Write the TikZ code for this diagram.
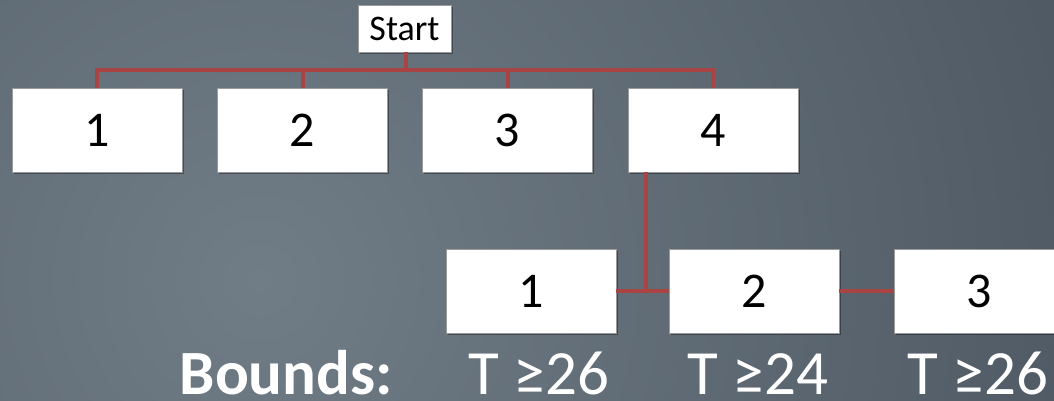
\documentclass[tikz,border=0pt]{standalone}
\usepackage{fontspec}
\setmainfont{Carlito}
\usetikzlibrary{shadows}
\definecolor{bgin}{HTML}{707C86}
\definecolor{bgout}{HTML}{4C5762}
\definecolor{linkred}{HTML}{A84444}
\definecolor{boxline}{HTML}{9A9A9A}
\tikzset{
  numbox/.style={draw=boxline, line width=0.8pt, fill=white, minimum width=170pt, minimum height=84pt, inner sep=0pt,
    font=\fontsize{50}{60}\selectfont, text=black,
    drop shadow={shadow xshift=1.5pt, shadow yshift=-2pt, opacity=0.35, fill=black}},
  startbox/.style={draw=boxline, line width=0.8pt, fill=white, minimum width=93pt, minimum height=47pt, inner sep=0pt,
    font=\fontsize{36}{43}\selectfont, text=black,
    drop shadow={shadow xshift=1.5pt, shadow yshift=-2pt, opacity=0.35, fill=black}},
  link/.style={draw=linkred, line width=4pt},
  bound/.style={text=white, font=\fontsize{63}{75}\selectfont, inner sep=0pt, text depth=0pt, anchor=base},
}
\begin{document}
\begin{tikzpicture}[x=1pt, y=-1pt]
\useasboundingbox (0,0) rectangle (1054,400);
\begin{scope}
\clip (0,0) rectangle (1054,400);
\fill[bgout] (0,0) rectangle (1054,400);
\shade[inner color=bgin, outer color=bgout] (260,280) circle (900);
\end{scope}
% nodes
\node[startbox] (start) at (404.5,28.5) {Start};
\node[numbox] (t1) at (97,130) {1};
\node[numbox] (t2) at (302.5,130) {2};
\node[numbox] (t3) at (507.5,130) {3};
\node[numbox] (t4) at (713,130) {4};
\node[numbox] (b1) at (531,291) {1};
\node[numbox] (b2) at (754,291) {2};
\node[numbox] (b3) at (979,291) {3};
\coordinate (bus) at (406,70);
% connectors
\draw[link] (start.south -| bus) -- (bus);
\draw[link] (t1.north) |- (bus) -| (t4.north);
\draw[link] (t2.north) -- (t2.north |- bus);
\draw[link] (t3.north) -- (t3.north |- bus);
\draw[link] ([xshift=-67pt]t4.south) |- (b1.east);
\draw[link] (b1.east) -- (b2.west);
\draw[link] (b2.east) -- (b3.west);
% labels
\node[bound, anchor=base east, font=\fontsize{63}{75}\selectfont\bfseries] (bl) at (393,394) {Bounds:};
\node[bound] (l1) at (539,394) {T ≥26};
\node[bound] (l2) at (758,394) {T ≥24};
\node[bound] (l3) at (978,394) {T ≥26};
\end{tikzpicture}
\end{document}
